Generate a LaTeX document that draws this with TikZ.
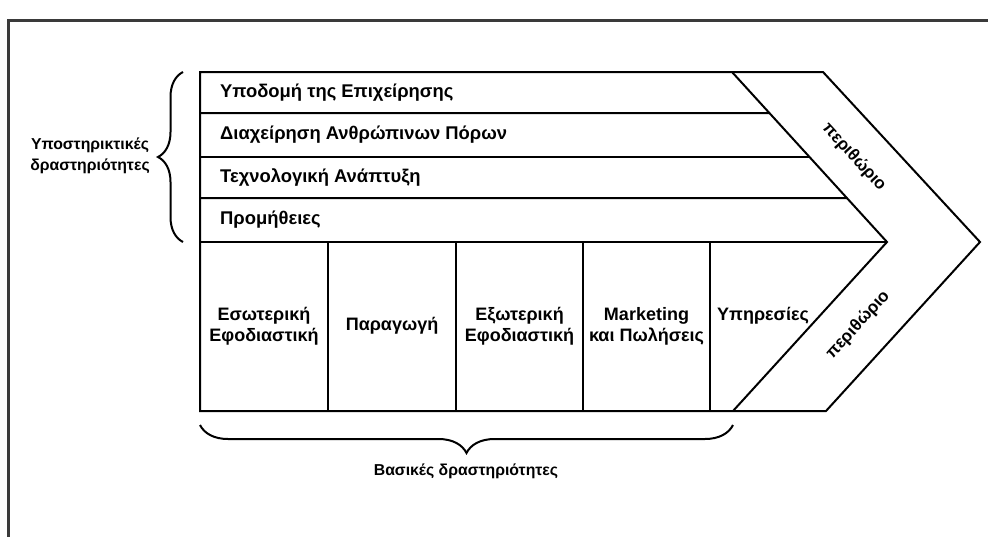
\documentclass[tikz,border=0pt]{standalone}
\usepackage{fontspec}
\setmainfont{Liberation Sans}
\usetikzlibrary{calc,decorations.pathreplacing}
\definecolor{framegray}{HTML}{3A3A3A}
\begin{document}
\begin{tikzpicture}[x=1pt,y=-1pt,
  line/.style={line width=2pt, line join=miter},
  rowlabel/.style={anchor=west, inner sep=0pt, font=\bfseries\fontsize{18.4}{21}\selectfont},
  celllabel/.style={align=center, inner sep=0pt, font=\bfseries\fontsize{18}{21}\selectfont},
  grouplabel/.style={align=center, inner sep=0pt, font=\bfseries\fontsize{15.8}{21}\selectfont},
  marginlabel/.style={inner sep=0pt, font=\bfseries\fontsize{17}{20}\selectfont},
  bracepath/.style={line width=2pt, decorate, decoration={brace, amplitude=#1}}]
\useasboundingbox (0,0) rectangle (988,536);
\clip (0,0) rectangle (988,536);
\fill[white] (0,0) rectangle (988,536);
% page frame, open towards the right and bottom edge
\draw[line width=3pt, framegray] (8,560) -- (8,20) -- (1010,20);

% corner points of the value chain arrow
\coordinate (tl) at (200,72);
\coordinate (ti) at (732,72);
\coordinate (to) at (823,72);
\coordinate (pi) at (887,242);
\coordinate (po) at (980,242);
\coordinate (bi) at (733,411);
\coordinate (bo) at (826,411);
\coordinate (bl) at (200,411);
\coordinate (ml) at (200,242);

% outline and inner chevron
\draw[line] (tl) -- (to) -- (po) -- (bo) -- (bl) -- cycle;
\draw[line] (ti) -- (pi) -- (bi);

% support activity rows
\draw[line] (200,113) -- ($(ti)!0.2412!(pi)$);
\draw[line] (200,157) -- ($(ti)!0.5!(pi)$);
\draw[line] (200,198) -- ($(ti)!0.7412!(pi)$);
\draw[line] (ml) -- (pi);

% primary activity columns
\foreach \x in {328,456,583,710} \draw[line] (\x,242) -- (\x,411);

% support activity labels
\node[rowlabel] (infra) at (220,92.5) {Υποδομή της Επιχείρησης};
\node[rowlabel] (hrm) at (220,135) {Διαχείρηση Ανθρώπινων Πόρων};
\node[rowlabel] (tech) at (220,177.5) {Τεχνολογική Ανάπτυξη};
\node[rowlabel] (proc) at (220,220) {Προμήθειες};

% primary activity labels
\node[celllabel] (inlog) at (264,326) {Εσωτερική\\Εφοδιαστική};
\node[celllabel] (ops) at (392,326) {Παραγωγή};
\node[celllabel] (outlog) at (519.5,326) {Εξωτερική\\Εφοδιαστική};
\node[celllabel] (mkt) at (646.5,326) {Marketing\\και Πωλήσεις};
\node[celllabel, anchor=west] (serv) at (717,316) {Υπηρεσίες};

% margin labels
\node[marginlabel, rotate=-47.6] (margtop) at (854,157) {περιθώριο};
\node[marginlabel, rotate=47.6] (margbot) at (858,325) {περιθώριο};

% braces and group labels
\coordinate (lbt) at (183,72);
\coordinate (lbb) at (183,242);
\draw[bracepath=25] (lbb) -- (lbt);
\node[grouplabel] (support) at (90,156) {Υποστηρικτικές\\δραστηριότητες};

\coordinate (bbl) at (200,425);
\coordinate (bbr) at (733,425);
\draw[bracepath=28] (bbr) -- (bbl);
\node[grouplabel] (primary) at (466,471) {Βασικές δραστηριότητες};
\end{tikzpicture}
\end{document}
